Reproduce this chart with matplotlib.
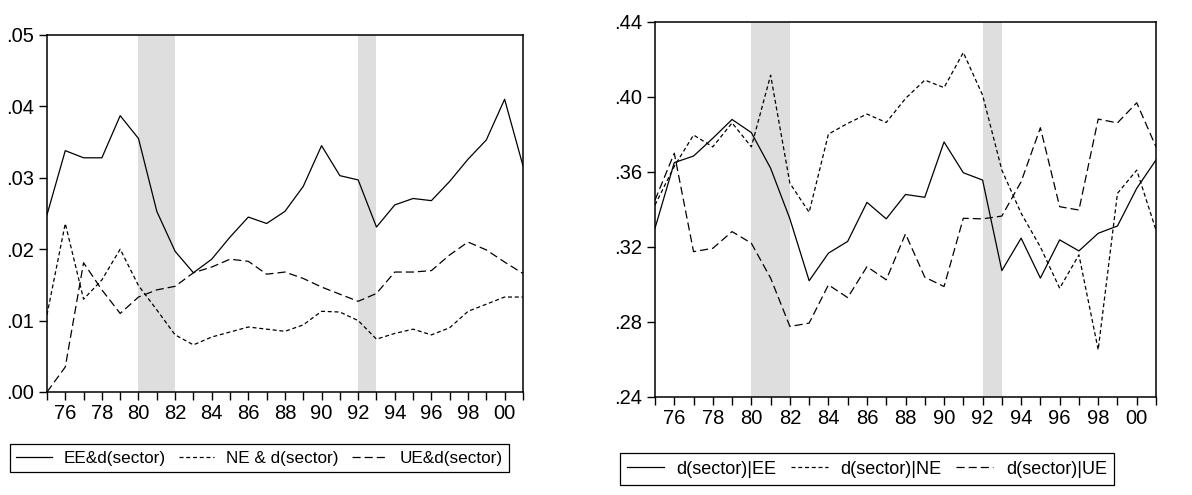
import matplotlib
matplotlib.use("Agg")
import matplotlib.pyplot as plt

plt.rcParams['font.family'] = ['Liberation Sans', 'DejaVu Sans']

years = list(range(1975, 2002))

# left panel: share of flows with a sector change
ee_d = [0.0248, 0.0338, 0.0328, 0.0328, 0.0387, 0.0355, 0.0253, 0.0197, 0.0167, 0.0186,
        0.0217, 0.0245, 0.0236, 0.0253, 0.0288, 0.0345, 0.0303, 0.0297, 0.0231, 0.0262,
        0.0271, 0.0268, 0.0295, 0.0326, 0.0353, 0.0410, 0.0317]
ne_d = [0.0108, 0.0236, 0.0130, 0.0157, 0.0200, 0.0149, 0.0115, 0.0080, 0.0066, 0.0077,
        0.0084, 0.0091, 0.0088, 0.0085, 0.0094, 0.0113, 0.0112, 0.0100, 0.0074, 0.0082,
        0.0088, 0.0080, 0.0090, 0.0113, 0.0123, 0.0133, 0.0133]
ue_d = [0.0000, 0.0035, 0.0181, 0.0143, 0.0110, 0.0133, 0.0143, 0.0148, 0.0167, 0.0175,
        0.0186, 0.0183, 0.0165, 0.0168, 0.0159, 0.0147, 0.0137, 0.0127, 0.0138, 0.0168,
        0.0168, 0.0170, 0.0192, 0.0210, 0.0199, 0.0182, 0.0166]

# right panel: conditional shares
d_ee = [0.330, 0.365, 0.3685, 0.378, 0.388, 0.381, 0.362, 0.335, 0.302, 0.3167,
        0.323, 0.3438, 0.335, 0.348, 0.3465, 0.376, 0.3596, 0.3557, 0.3074, 0.3247,
        0.3034, 0.3238, 0.3179, 0.3273, 0.3312, 0.3513, 0.3664]
d_ne = [0.3424, 0.363, 0.3797, 0.3734, 0.3862, 0.3734, 0.4116, 0.354, 0.3385, 0.3802,
        0.3859, 0.3909, 0.3864, 0.3992, 0.409, 0.405, 0.4237, 0.401, 0.361, 0.338,
        0.320, 0.298, 0.3158, 0.2652, 0.3486, 0.361, 0.329]
d_ue = [0.345, 0.370, 0.3175, 0.3193, 0.3282, 0.322, 0.3034, 0.2776, 0.2794, 0.2998,
        0.293, 0.3095, 0.3025, 0.327, 0.3039, 0.2989, 0.3353, 0.335, 0.3365, 0.3548,
        0.3836, 0.3415, 0.3397, 0.3882, 0.3862, 0.3969, 0.3734]

recessions = [(1980, 1982), (1992, 1993)]

left_labels = ['EE&d(sector)', 'NE & d(sector)', 'UE&d(sector)']
right_labels = ['d(sector)|EE', 'd(sector)|NE', 'd(sector)|UE']

left_yticks = [0.00, 0.01, 0.02, 0.03, 0.04, 0.05]
left_yticklabels = ['.00', '.01', '.02', '.03', '.04', '.05']
right_yticks = [0.24, 0.28, 0.32, 0.36, 0.40, 0.44]
right_yticklabels = ['.24', '.28', '.32', '.36', '.40', '.44']
xtick_years = list(range(1976, 2001, 2))
xtick_labels = ['76', '78', '80', '82', '84', '86', '88', '90', '92', '94', '96', '98', '00']

styles = [dict(ls='-'), dict(ls=(0, (3.2, 2.2))), dict(ls=(0, (6.5, 3.2)))]


def draw_panel(ax, series, yticks, yticklabels):
    for a, b in recessions:
        ax.axvspan(a, b, color='#dedede', lw=0, zorder=0)
    lines = []
    for s, st in zip(series, styles):
        ln, = ax.plot(years, s, color='black', lw=0.9, **st)
        lines.append(ln)
    ax.set_xlim(1975, 2001)
    ax.set_ylim(yticks[0], yticks[-1])
    ax.set_yticks(yticks)
    ax.set_yticklabels(yticklabels)
    ax.set_xticks(years)
    ax.set_xticklabels([xtick_labels[xtick_years.index(y)] if y in xtick_years else '' for y in years])
    ax.tick_params(direction='out', length=6, width=1.0, labelsize=14.5, pad=3, color='black')
    for sp in ax.spines.values():
        sp.set_linewidth(1.1)
    return lines


fig = plt.figure(figsize=(11.92, 4.95), dpi=100)
ax1 = fig.add_axes([0.0394, 0.2081, 0.3993, 0.7212])
ax2 = fig.add_axes([0.5495, 0.1980, 0.4203, 0.7576])

l1 = draw_panel(ax1, [ee_d, ne_d, ue_d], left_yticks, left_yticklabels)
l2 = draw_panel(ax2, [d_ee, d_ne, d_ue], right_yticks, right_yticklabels)

leg_kw = dict(loc='center', ncol=3, fancybox=False, edgecolor='black', framealpha=1,
              handlelength=2.05, handletextpad=0.7, columnspacing=0.8, borderpad=0.4)
leg1 = fig.legend(l1, left_labels, bbox_to_anchor=(0.2177, 1 - 458 / 495), fontsize=12.3, **leg_kw)
leg2 = fig.legend(l2, right_labels, bbox_to_anchor=(0.7273, 1 - 469 / 495), fontsize=13, **leg_kw)
for lg in (leg1, leg2):
    lg.get_frame().set_linewidth(0.9)

fig.savefig('out.png', dpi=100)
